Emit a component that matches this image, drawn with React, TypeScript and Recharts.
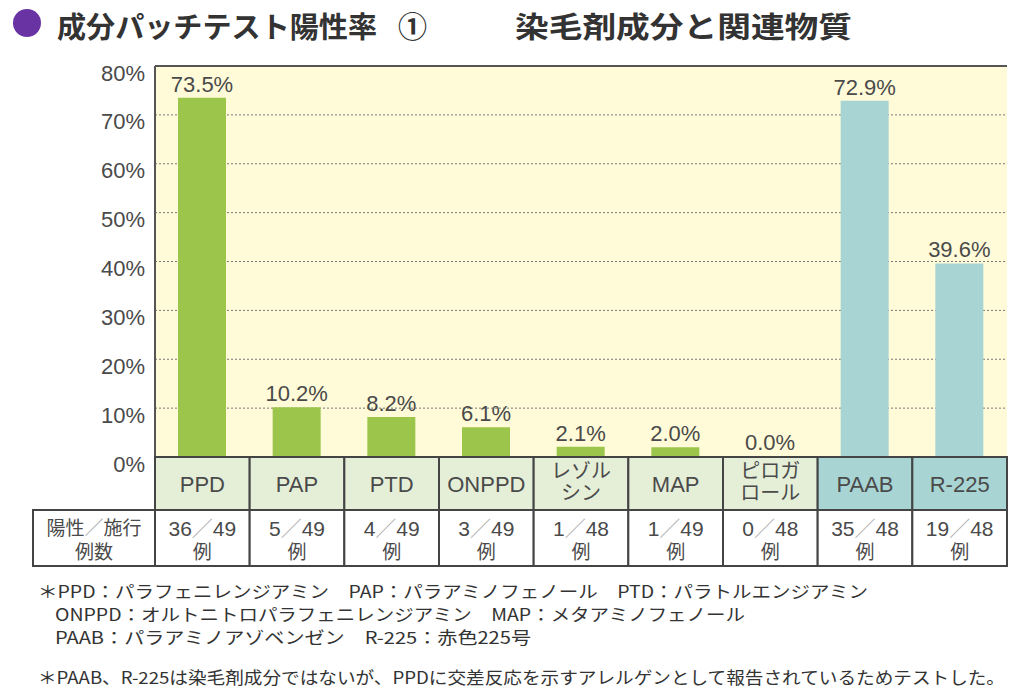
import React from "react";
import { BarChart, Bar, XAxis, YAxis, CartesianGrid, LabelList, Cell, ReferenceLine } from "recharts";

// 成分パッチテスト陽性率（染毛剤成分と関連物質）
const categories = ["PPD", "PAP", "PTD", "ONPPD", "レゾル\nシン", "MAP", "ピロガ\nロール", "PAAB", "R-225"];
const positiveRates = [73.5, 10.2, 8.2, 6.1, 2.1, 2.0, 0.0, 72.9, 39.6];
const positiveCounts = [36, 5, 4, 3, 1, 1, 0, 35, 19];
const testedCounts = [49, 49, 49, 49, 48, 49, 48, 48, 48];
const groups = ["dye", "dye", "dye", "dye", "dye", "dye", "dye", "related", "related"];
const yTicks = [0, 10, 20, 30, 40, 50, 60, 70, 80];

const footnotes = [
  "＊PPD：パラフェニレンジアミン　PAP：パラアミノフェノール　PTD：パラトルエンジアミン",
  "ONPPD：オルトニトロパラフェニレンジアミン　MAP：メタアミノフェノール",
  "PAAB：パラアミノアゾベンゼン　R-225：赤色225号",
  "＊PAAB、R-225は染毛剤成分ではないが、PPDに交差反応を示すアレルゲンとして報告されているためテストした。",
];

const data = categories.map((name, i) => ({
  name,
  rate: positiveRates[i],
  group: groups[i],
}));

const GREEN = "#9cc54b";
const GREEN_CELL = "#e5efd8";
const BLUE = "#a8d4d4";
const PLOT_BG = "#fffbd8";
const BORDER = "#444";
const FRAME = "#555";
const TEXT = "#4a4a4a";
const FONT = "'Liberation Sans', 'Noto Sans CJK JP', sans-serif";
const JP_FONT = "'Noto Sans CJK JP', sans-serif";

const PLOT_LEFT = 155;
const PLOT_RIGHT = 1007;
const PLOT_TOP = 66;
const PLOT_BOTTOM = 457;
const CHART_H = 572;
const BAND = (PLOT_RIGHT - PLOT_LEFT) / categories.length;
const ROW1 = 53;
const ROW2 = 56;

function YTick({ x, y, payload }: any) {
  return (
    <text x={x} y={y + 7} textAnchor="end" dominantBaseline="central" fontSize={22} fill={TEXT} fontFamily={FONT}>
      {`${payload.value}%`}
    </text>
  );
}

function TableTick(props: any) {
  const { x, y, payload } = props;
  const i = props.index ?? payload.index;
  const half = BAND / 2;
  const lines = categories[i].split("\n");
  const fill = groups[i] === "related" ? BLUE : GREEN_CELL;
  const leftW = PLOT_LEFT - 33;
  return (
    <g fontFamily={FONT} fill={TEXT}>
      <rect x={x - half} y={y} width={BAND} height={ROW1} fill={fill} stroke={BORDER} strokeWidth={2} />
      {lines.length === 1 ? (
        <text x={x} y={y + 27} textAnchor="middle" dominantBaseline="central" fontSize={22} fill={TEXT}>
          {lines[0]}
        </text>
      ) : (
        lines.map((l, k) => (
          <text key={k} x={x} y={y + 14 + k * 22} textAnchor="middle" dominantBaseline="central" fontSize={20} fill={TEXT}>
            {l}
          </text>
        ))
      )}
      <rect x={x - half} y={y + ROW1} width={BAND} height={ROW2} fill="#fff" stroke={BORDER} strokeWidth={2} />
      <text x={x} y={y + ROW1 + 18} textAnchor="middle" dominantBaseline="central" fontSize={21} fill={TEXT}>
        {positiveCounts[i]}
        <tspan fill="#aaa">／</tspan>
        {testedCounts[i]}
      </text>
      <text x={x} y={y + ROW1 + 42} textAnchor="middle" dominantBaseline="central" fontSize={19} fill={TEXT}>
        例
      </text>
      {i === 0 && (
        <g>
          <rect x={x - half - leftW} y={y + ROW1} width={leftW} height={ROW2} fill="#fff" stroke={BORDER} strokeWidth={2} />
          <text x={x - half - leftW / 2} y={y + ROW1 + 18} textAnchor="middle" dominantBaseline="central" fontSize={19} fill={TEXT}>
            陽性<tspan fill="#aaa">／</tspan>施行
          </text>
          <text x={x - half - leftW / 2} y={y + ROW1 + 42} textAnchor="middle" dominantBaseline="central" fontSize={19} fill={TEXT}>
            例数
          </text>
        </g>
      )}
    </g>
  );
}

export default function App() {
  return (
    <div style={{ position: "fixed", left: 0, top: 0, width: 1024, height: 691, background: "#fff", overflow: "hidden" }}>
      <div style={{ position: "absolute", left: 0, top: 0 }}>
        <BarChart
          width={1024}
          height={CHART_H}
          data={data}
          margin={{ top: PLOT_TOP, right: 1024 - PLOT_RIGHT, left: 0, bottom: 0 }}
          barSize={48}
        >
          <CartesianGrid vertical={false} stroke="#777" strokeDasharray="2 2" fill={PLOT_BG} fillOpacity={1} />
          <XAxis
            dataKey="name"
            interval={0}
            height={CHART_H - PLOT_BOTTOM}
            tickLine={false}
            tickSize={0}
            tickMargin={0}
            axisLine={{ stroke: BORDER, strokeWidth: 2 }}
            tick={<TableTick />}
          />
          <YAxis
            domain={[0, 80]}
            ticks={yTicks}
            width={PLOT_LEFT}
            tickLine={false}
            tickSize={0}
            tickMargin={10}
            axisLine={{ stroke: FRAME, strokeWidth: 2 }}
            tick={<YTick />}
          />
          <YAxis yAxisId="right" orientation="right" domain={[0, 80]} width={0} tick={false} tickLine={false} axisLine={{ stroke: FRAME, strokeWidth: 2 }} />
          <ReferenceLine y={80} stroke={FRAME} strokeWidth={2} />
          <Bar dataKey="rate" isAnimationActive={false} minPointSize={1}>
            {data.map((d, i) => (
              <Cell key={i} fill={d.rate === 0 ? "transparent" : d.group === "related" ? BLUE : GREEN} />
            ))}
            <LabelList
              dataKey="rate"
              position="top"
              offset={6}
              formatter={(v: any) => `${Number(v).toFixed(1)}%`}
              style={{ fontSize: 22, fill: TEXT, fontFamily: FONT }}
            />
          </Bar>
        </BarChart>
      </div>
      <svg width={1024} height={691} style={{ position: "absolute", left: 0, top: 0, pointerEvents: "none" }}>
        <circle cx={27} cy={23} r={14} fill="#6a33a3" />
        <g fontFamily={JP_FONT} fontWeight={700} fontSize={29} fill="#333">
          <text x={57} y={25} dominantBaseline="central" textLength={320} lengthAdjust="spacingAndGlyphs">
            成分パッチテスト陽性率
          </text>
          <text x={398} y={25} dominantBaseline="central">①</text>
          <text x={515} y={25} dominantBaseline="central" textLength={337} lengthAdjust="spacingAndGlyphs">
            染毛剤成分と関連物質
          </text>
        </g>
        <g fontFamily={JP_FONT} fontSize={17} fill="#333">
          <text x={38} y={590} dominantBaseline="central" textLength={830} lengthAdjust="spacingAndGlyphs">
            {footnotes[0]}
          </text>
          <text x={55} y={613} dominantBaseline="central" textLength={690} lengthAdjust="spacingAndGlyphs">
            {footnotes[1]}
          </text>
          <text x={55} y={636} dominantBaseline="central" textLength={476} lengthAdjust="spacingAndGlyphs">
            {footnotes[2]}
          </text>
          <text x={38} y={676} dominantBaseline="central" textLength={967} lengthAdjust="spacingAndGlyphs">
            {footnotes[3]}
          </text>
        </g>
      </svg>
    </div>
  );
}
